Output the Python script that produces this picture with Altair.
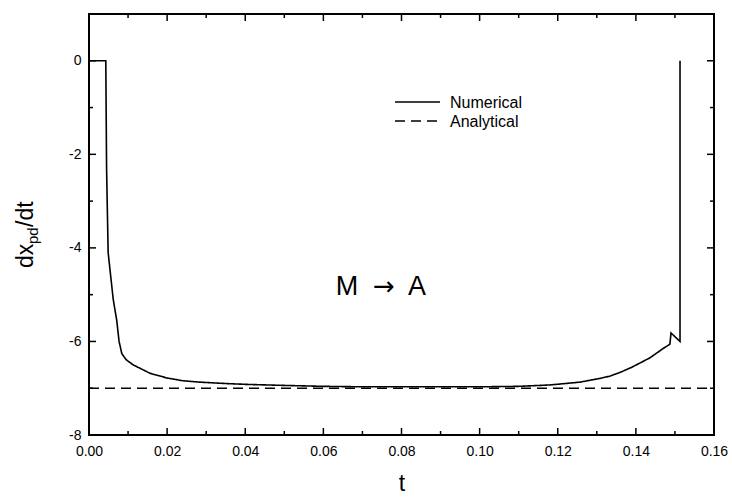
import altair as alt
import pandas as pd

# ---- data ----
num_t = [0.0, 0.0043, 0.0045, 0.0049, 0.0062, 0.0071, 0.0077, 0.0084, 0.0095, 0.0113,
         0.0156, 0.0199, 0.0240, 0.0284, 0.0350, 0.0410, 0.0500, 0.0600, 0.0700, 0.0800,
         0.0900, 0.1000, 0.1100, 0.1180, 0.1257, 0.1308, 0.1334, 0.1360, 0.1390, 0.1436,
         0.1470, 0.1487, 0.1490, 0.1513, 0.1513]
num_v = [0.0, 0.0, -2.3, -4.1, -5.1, -5.55, -6.0, -6.26, -6.39, -6.50,
         -6.68, -6.78, -6.84, -6.87, -6.90, -6.92, -6.94, -6.96, -6.97, -6.97,
         -6.97, -6.97, -6.96, -6.93, -6.87, -6.79, -6.74, -6.66, -6.55, -6.35,
         -6.15, -6.06, -5.82, -6.00, 0.0]
ana_t = [0.0, 0.16]
ana_v = [-7.0, -7.0]
series_names = ["Numerical", "Analytical"]

x_major = [0.0, 0.02, 0.04, 0.06, 0.08, 0.10, 0.12, 0.14, 0.16]
x_minor = [0.01, 0.03, 0.05, 0.07, 0.09, 0.11, 0.13, 0.15]
y_major = [-8, -6, -4, -2, 0]
y_minor = [-7, -5, -3, -1]

annotation_parts = ["M", "\u2192", "A"]
x_title = "t"
y_title_parts = ["dx", "pd", "/dt"]

# ---- build tables ----
rows = []
for i, (t, v) in enumerate(zip(num_t, num_v)):
    rows.append({"series": series_names[0], "t": t, "v": v, "idx": i})
for i, (t, v) in enumerate(zip(ana_t, ana_v)):
    rows.append({"series": series_names[1], "t": t, "v": v, "idx": i})
lines_df = pd.DataFrame(rows)

W, H = 625, 421
FONT = "Liberation Sans"
DASH = [10, 6]
xscale = alt.Scale(domain=[0, 0.16], nice=False, zero=False)
yscale = alt.Scale(domain=[-8, 1], nice=False, zero=False)

x_axis = alt.Axis(values=x_major, format=".2f", ticks=False, domain=False,
                  grid=False, labelFontSize=14, labelColor="black", labelFlush=False,
                  labelOverlap=False, labelFont=FONT, labelPadding=9, title=x_title,
                  titleFontSize=23, titleFont=FONT, titleFontWeight="normal",
                  titleColor="black", titlePadding=14)
y_axis = alt.Axis(values=y_major, labelExpr="'' + datum.value", ticks=False,
                  domain=False, grid=False, labelFontSize=14, labelColor="black",
                  labelFlush=False, labelOverlap=False,
                  labelFont=FONT, labelPadding=8, title=None)

lines = alt.Chart(lines_df).mark_line(color="black", strokeWidth=1.6).encode(
    x=alt.X("t:Q", scale=xscale, axis=x_axis),
    y=alt.Y("v:Q", scale=yscale, axis=y_axis),
    strokeDash=alt.StrokeDash(
        "series:N",
        scale=alt.Scale(domain=series_names, range=[[1, 0], DASH]),
        legend=None),
    order=alt.Order("idx:Q"),
)

def xticks(vals, length, top):
    df = pd.DataFrame({"t": vals})
    y0, y1 = (0, length) if top else (H, H - length)
    return alt.Chart(df).mark_rule(color="black", strokeWidth=1.5).encode(
        x=alt.X("t:Q", scale=xscale, axis=x_axis), y=alt.value(y0), y2=alt.value(y1))

def yticks(vals, length, right):
    df = pd.DataFrame({"v": vals})
    x0, x1 = (W, W - length) if right else (0, length)
    return alt.Chart(df).mark_rule(color="black", strokeWidth=1.5).encode(
        y=alt.Y("v:Q", scale=yscale, axis=y_axis), x=alt.value(x0), x2=alt.value(x1))

tick_layers = [
    xticks(x_major, 7, False), xticks(x_minor, 4, False),
    xticks(x_major, 7, True), xticks(x_minor, 4, True),
    yticks(y_major, 7, False), yticks(y_minor, 4, False),
    yticks(y_major, 7, True), yticks(y_minor, 4, True),
]

def label(text, px, py, size, angle=0, align="left", font=FONT):
    kw = dict(text=text, fontSize=size, font=font, color="black", align=align,
              baseline="alphabetic")
    if angle:
        kw["angle"] = angle
    return alt.Chart(pd.DataFrame({"k": [0]})).mark_text(**kw).encode(
        x=alt.value(px), y=alt.value(py))

# manual legend (sample line + label)
def legend_row(name, py, dash):
    kw = dict(color="black", strokeWidth=1.6)
    if dash:
        kw["strokeDash"] = dash
    sample = alt.Chart(pd.DataFrame({"k": [0]})).mark_rule(**kw).encode(
        x=alt.value(306), x2=alt.value(351), y=alt.value(py))
    return [sample, label(name, 361, py + 6, 16)]

legend_layers = legend_row(series_names[0], 88, None) + legend_row(series_names[1], 107, DASH)

texts = [
    label(annotation_parts[0], 258, 281, 27, align="center"),
    label(annotation_parts[1], 295, 281, 26, align="center", font="DejaVu Sans"),
    label(annotation_parts[2], 328, 281, 27, align="center"),
    label(y_title_parts[0], -56, 254, 23, angle=270),
    label(y_title_parts[1], -51, 230, 15, angle=270),
    label(y_title_parts[2], -56, 213, 23, angle=270),
]

chart = alt.layer(lines, *tick_layers, *legend_layers, *texts).properties(
    width=W, height=H,
    background="white",
    autosize=alt.AutoSizeParams(type="none"),
    padding={"left": 89, "top": 14, "right": 18, "bottom": 62},
).configure_view(stroke="black", strokeWidth=2)

chart.save("out.html", embed_options={"renderer": "svg", "actions": False})
